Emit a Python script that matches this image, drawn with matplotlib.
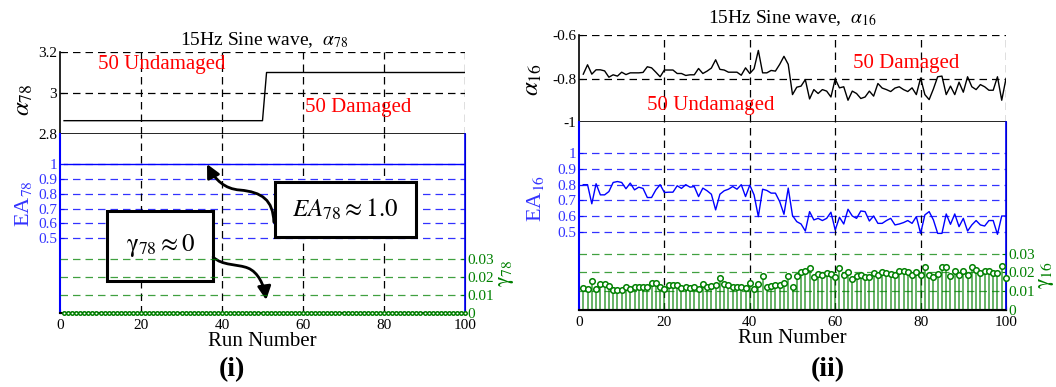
import matplotlib
matplotlib.use("Agg")
import matplotlib.pyplot as plt
from matplotlib.patches import Rectangle, FancyArrowPatch
from matplotlib.path import Path

plt.rcParams['font.family'] = ['Liberation Serif', 'DejaVu Serif']
plt.rcParams['mathtext.fontset'] = 'stix'

runs = list(range(1, 101))

# panel (i): alpha_78, EA_78, gamma_78
alpha78 = [2.865] * 50 + [3.10] * 50
ea78 = [1.0] * 100
gamma78 = [0.0] * 100

# panel (ii): alpha_16, EA_16, gamma_16
alpha16 = [-0.780, -0.737, -0.780, -0.760, -0.760, -0.765, -0.794, -0.783, -0.789, -0.771,
           -0.782, -0.774, -0.774, -0.774, -0.772, -0.746, -0.751, -0.771, -0.792, -0.761,
           -0.761, -0.761, -0.777, -0.777, -0.786, -0.783, -0.783, -0.754, -0.777, -0.766,
           -0.752, -0.714, -0.758, -0.761, -0.771, -0.771, -0.771, -0.785, -0.751, -0.777,
           -0.755, -0.671, -0.774, -0.774, -0.763, -0.766, -0.735, -0.698, -0.735, -0.874,
           -0.840, -0.835, -0.805, -0.894, -0.851, -0.869, -0.851, -0.858, -0.885, -0.802,
           -0.843, -0.838, -0.900, -0.858, -0.869, -0.892, -0.885, -0.858, -0.881, -0.823,
           -0.844, -0.851, -0.860, -0.844, -0.838, -0.851, -0.860, -0.843, -0.874, -0.798,
           -0.874, -0.897, -0.848, -0.792, -0.789, -0.874, -0.835, -0.874, -0.817, -0.863,
           -0.792, -0.838, -0.851, -0.828, -0.838, -0.854, -0.854, -0.792, -0.900, -0.800]
ea16 = [0.800, 0.800, 0.678, 0.806, 0.735, 0.735, 0.756, 0.814, 0.820, 0.814,
        0.774, 0.810, 0.767, 0.784, 0.776, 0.718, 0.718, 0.767, 0.800, 0.750,
        0.752, 0.752, 0.793, 0.776, 0.800, 0.784, 0.788, 0.724, 0.778, 0.761,
        0.739, 0.639, 0.739, 0.761, 0.771, 0.788, 0.771, 0.800, 0.724, 0.797,
        0.735, 0.596, 0.771, 0.763, 0.746, 0.746, 0.692, 0.611, 0.778, 0.603,
        0.564, 0.549, 0.504, 0.628, 0.575, 0.585, 0.571, 0.585, 0.624, 0.511,
        0.592, 0.549, 0.643, 0.600, 0.585, 0.632, 0.628, 0.568, 0.600, 0.553,
        0.553, 0.571, 0.585, 0.543, 0.549, 0.558, 0.571, 0.553, 0.596, 0.489,
        0.607, 0.628, 0.575, 0.489, 0.489, 0.613, 0.547, 0.613, 0.532, 0.585,
        0.504, 0.543, 0.571, 0.543, 0.536, 0.571, 0.571, 0.483, 0.600, 0.600]
gamma16 = [0.0117, 0.0110, 0.0156, 0.0110, 0.0139, 0.0139, 0.0128, 0.0107, 0.0105, 0.0107,
           0.0124, 0.0112, 0.0124, 0.0121, 0.0121, 0.0124, 0.0142, 0.0142, 0.0124, 0.0110,
           0.0131, 0.0131, 0.0131, 0.0115, 0.0124, 0.0115, 0.0124, 0.0114, 0.0140, 0.0121,
           0.0128, 0.0131, 0.0171, 0.0139, 0.0131, 0.0124, 0.0121, 0.0124, 0.0117, 0.0142,
           0.0114, 0.0139, 0.0183, 0.0124, 0.0128, 0.0131, 0.0135, 0.0146, 0.0181, 0.0121,
           0.0183, 0.0202, 0.0206, 0.0226, 0.0174, 0.0192, 0.0188, 0.0195, 0.0192, 0.0178,
           0.0226, 0.0188, 0.0204, 0.0167, 0.0181, 0.0188, 0.0174, 0.0174, 0.0199, 0.0185,
           0.0202, 0.0199, 0.0192, 0.0188, 0.0206, 0.0206, 0.0202, 0.0188, 0.0202, 0.0185,
           0.0231, 0.0185, 0.0174, 0.0192, 0.0229, 0.0229, 0.0181, 0.0210, 0.0188, 0.0210,
           0.0188, 0.0229, 0.0215, 0.0197, 0.0206, 0.0206, 0.0199, 0.0199, 0.0234, 0.0169]

x_ticks = [0, 20, 40, 60, 80, 100]
ea_ticks = [0.5, 0.6, 0.7, 0.8, 0.9, 1.0]
ea_labels = ['0.5', '0.6', '0.7', '0.8', '0.9', '1']
gamma_ticks = [0, 0.01, 0.02, 0.03]
gamma_labels = ['0', '0.01', '0.02', '0.03']

W, H = 1056, 387
BLUE = '#0000ff'
TBLUE = '#3333ff'
GREEN = '#008000'
DASH = (0, (6, 4))

fig = plt.figure(figsize=(W / 100, H / 100), dpi=100)


def px(x, y):
    return x / W, 1 - y / H


def panel(x0, x1, ytop, ymid, ybot, alpha, alim, aticks, alabels, ea, gamma, light_stems):
    axt = fig.add_axes([x0 / W, 1 - ymid / H, (x1 - x0) / W, (ymid - ytop) / H])
    axb = fig.add_axes([x0 / W, 1 - ybot / H, (x1 - x0) / W, (ybot - ymid) / H])
    axg = axb.twinx()

    # top: alpha
    axt.plot(runs, alpha, color='k', lw=1)
    axt.set_xlim(0, 100)
    axt.set_ylim(*alim)
    axt.set_yticks(aticks)
    axt.set_yticklabels(alabels)
    axt.set_xticks([])
    for s in ['top', 'right']:
        axt.spines[s].set_visible(False)
    axt.spines['bottom'].set_linewidth(1.2)
    axt.spines['left'].set_linewidth(1.2)
    for v in aticks[1:]:
        axt.axhline(v, color='k', ls=DASH, lw=0.9)
    for v in x_ticks[1:]:
        axt.axvline(v, color='k', ls=DASH, lw=0.9)
    axt.tick_params(axis='y', direction='in', labelsize=11, length=3, pad=2)

    # bottom: EA and gamma
    axb.set_xlim(0, 100)
    axb.set_ylim(0, 1.2)
    axb.set_yticks(ea_ticks)
    axb.set_yticklabels(ea_labels)
    axb.set_xticks(x_ticks)
    axb.tick_params(axis='y', colors=TBLUE, direction='in', labelsize=11, length=3, pad=2)
    axb.tick_params(axis='x', direction='in', labelsize=11, length=3, pad=4)
    for v in ea_ticks:
        axb.axhline(v, color=BLUE, ls=DASH, lw=0.9, alpha=0.8)
    for v in x_ticks[1:-1]:
        axb.axvline(v, color='k', ls=DASH, lw=0.9)
    axb.plot(runs, ea, color=BLUE, lw=1)
    axb.set_xlabel('Run Number', fontsize=15, labelpad=0)

    axg.set_ylim(0, 0.1)
    axg.set_yticks(gamma_ticks)
    axg.set_yticklabels(gamma_labels)
    axg.tick_params(axis='y', colors=GREEN, direction='in', labelsize=11, length=3, pad=2)
    for v in gamma_ticks[1:]:
        axg.axhline(v, color=GREEN, ls=DASH, lw=0.9, alpha=0.75)
    ml, sl, bl = axg.stem(runs, gamma, basefmt='k-')
    plt.setp(sl, color=GREEN, lw=1.3, alpha=0.65)
    plt.setp(ml, color=GREEN, marker='o', markersize=4 if light_stems else 2.5,
             markerfacecolor='white', markeredgewidth=1.1, zorder=5, clip_on=False)
    plt.setp(bl, lw=1.5, zorder=4)

    axb.spines['left'].set_color(BLUE)
    axb.spines['left'].set_linewidth(1.5)
    axg.spines['left'].set_visible(False)
    axg.spines['right'].set_color(BLUE)
    axg.spines['right'].set_linewidth(1.2)
    axb.spines['top'].set_visible(False)
    axg.spines['top'].set_visible(False)
    axb.spines['bottom'].set_linewidth(1.5)
    return axt, axb, axg


# ---- panel (i)
t1, b1, g1 = panel(60, 465, 52, 134, 313, alpha78, (2.8, 3.2), [2.8, 3.0, 3.2], ['2.8', '3', '3.2'],
                   ea78, gamma78, False)
t1.text(9.4, 3.137, '50 Undamaged', color='red', fontsize=15, va='center')
t1.text(60.5, 2.93, '50 Damaged', color='red', fontsize=15, va='center')

# annotation boxes and curved arrows
b1.add_patch(Rectangle((0.531, 0.425), 0.348, 0.307, transform=b1.transAxes,
                       facecolor='white', edgecolor='k', lw=2.2, zorder=10))
b1.text(0.705, 0.578, r'$EA_{78} \approx 1.0$', transform=b1.transAxes, fontsize=18,
        ha='center', va='center', zorder=11)
b1.add_patch(Rectangle((0.116, 0.179), 0.262, 0.391, transform=b1.transAxes,
                       facecolor='white', edgecolor='k', lw=2.2, zorder=10))
b1.text(0.247, 0.375, r'$\mathrm{\gamma}_{78} \approx 0$', transform=b1.transAxes, fontsize=18,
        ha='center', va='center', zorder=11)

C = Path.CURVE4
p_ea = Path([(0.528, 0.508), (0.526, 0.631), (0.499, 0.676), (0.444, 0.687),
             (0.407, 0.693), (0.383, 0.743), (0.363, 0.832)],
            [Path.MOVETO, C, C, C, C, C, C])
p_g = Path([(0.378, 0.313), (0.400, 0.263), (0.440, 0.274), (0.464, 0.251),
            (0.489, 0.229), (0.504, 0.156), (0.509, 0.073)],
           [Path.MOVETO, C, C, C, C, C, C])
for p in (p_ea, p_g):
    b1.add_patch(FancyArrowPatch(path=p, arrowstyle='-|>', mutation_scale=20, lw=2,
                                 color='k', transform=b1.transAxes, zorder=12))

# ---- panel (ii)
t2, b2, g2 = panel(579, 1006, 35, 122, 310, alpha16, (-1, -0.6), [-1, -0.8, -0.6], ['-1', '-0.8', '-0.6'],
                   ea16, gamma16, True)
t2.text(64.2, -0.733, '50 Damaged', color='red', fontsize=15, va='center')
t2.text(15.9, -0.922, '50 Undamaged', color='red', fontsize=15, va='center')

# titles and axis labels
fig.text(*px(264, 40), r'15Hz Sine wave,  $\alpha_{78}$', fontsize=14, ha='center', va='center')
fig.text(*px(792, 18), r'15Hz Sine wave,  $\alpha_{16}$', fontsize=14, ha='center', va='center')
fig.text(*px(24, 100), r'$\alpha_{78}$', fontsize=18, rotation=90, ha='center', va='center')
fig.text(*px(23, 204), r'EA$_{78}$', fontsize=16, rotation=90, ha='center', va='center', color=TBLUE)
fig.text(*px(506, 273), r'$\mathrm{\gamma}_{78}$', fontsize=16, rotation=90, ha='center', va='center', color=GREEN)
fig.text(*px(533, 80), r'$\alpha_{16}$', fontsize=18, rotation=90, ha='center', va='center')
fig.text(*px(536, 198), r'EA$_{16}$', fontsize=16, rotation=90, ha='center', va='center', color=TBLUE)
fig.text(*px(1046, 275), r'$\mathrm{\gamma}_{16}$', fontsize=16, rotation=90, ha='center', va='center', color=GREEN)
fig.text(*px(232, 370), '(i)', fontsize=20, fontweight='bold', ha='center', va='center')
fig.text(*px(828, 370), '(ii)', fontsize=20, fontweight='bold', ha='center', va='center')

fig.savefig('out.png', dpi=100)
